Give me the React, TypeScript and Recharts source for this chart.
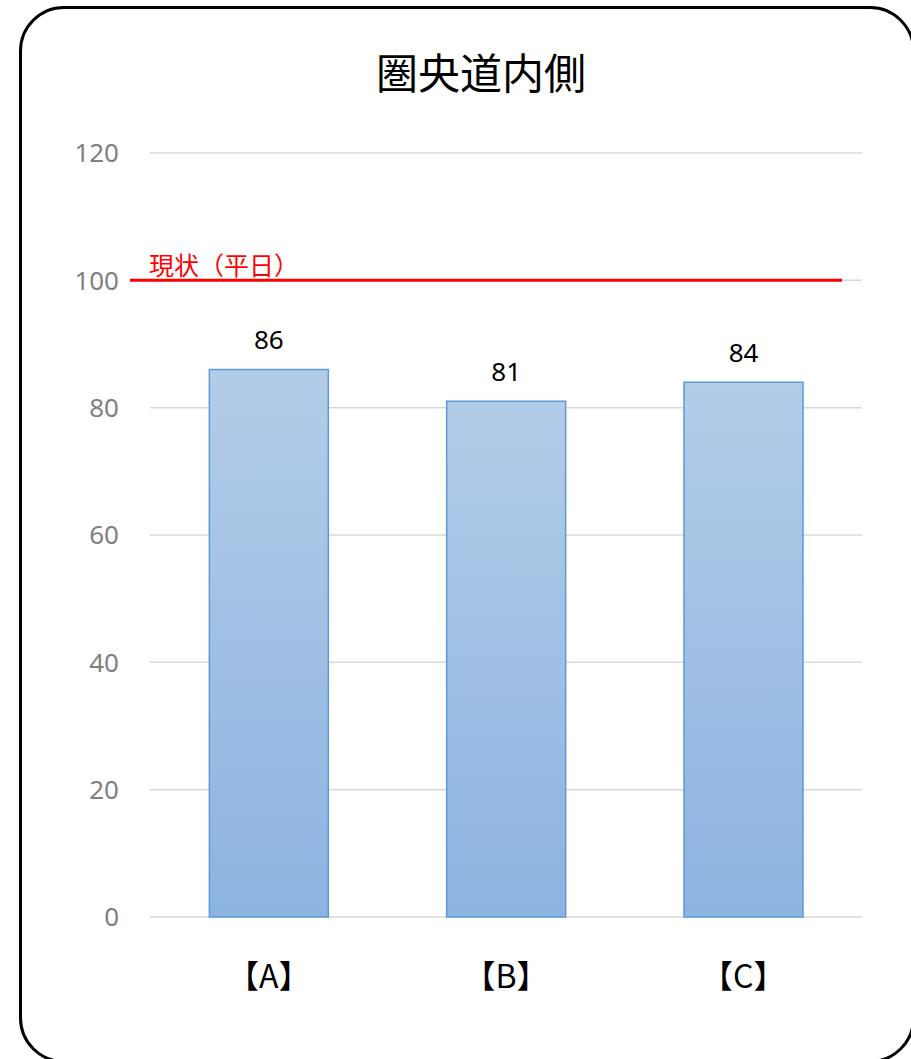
import React from "react";
import { BarChart, Bar, XAxis, YAxis, CartesianGrid, ReferenceLine, LabelList } from "recharts";

const categories = ["【A】", "【B】", "【C】"];
const values = [86, 81, 84];
const yTicks = [0, 20, 40, 60, 80, 100, 120];
const baselineValue = 100;
const baselineLabel = "現状（平日）";
const title = "圏央道内側";

const data = categories.map((name, i) => ({ name, value: values[i] }));

const cjk = "'Noto Sans CJK JP', 'Noto Sans', sans-serif";
const latin = "'Noto Sans', 'Noto Sans CJK JP', sans-serif";

const RedLine = (props: any) => {
  const { x1, y1, x2, y2 } = props;
  return (
    <g>
      <line x1={x1 - 20} y1={y1} x2={x2 - 20} y2={y2} stroke="#ff0000" strokeWidth={3} />
      <text x={x1 - 1} y={y1 - 5} fill="#ff0000" fontSize={25} fontFamily={cjk}>
        {baselineLabel}
      </text>
    </g>
  );
};

export default function App() {
  return (
    <div style={{ position: "fixed", left: 0, top: 0, width: 911, height: 1059, overflow: "hidden", background: "#fff" }}>
      <div
        style={{
          position: "absolute",
          left: 19,
          top: 6,
          width: 896,
          height: 1057,
          border: "3px solid #000",
          borderRadius: 45,
          boxSizing: "border-box",
        }}
      />
      <div
        style={{
          position: "absolute",
          left: 0,
          top: 44,
          width: 962,
          textAlign: "center",
          fontFamily: cjk,
          fontSize: 42,
          lineHeight: "54px",
          color: "#000",
        }}
      >
        {title}
      </div>
      <div style={{ position: "absolute", left: 0, top: 0 }}>
        <BarChart
          width={911}
          height={1059}
          data={data}
          margin={{ top: 153, right: 49, bottom: 0, left: 90 }}
          barCategoryGap="25%"
        >
          <defs>
            <linearGradient id="barGrad" x1="0" y1="0" x2="0" y2="1">
              <stop offset="0%" stopColor="#b3cce8" />
              <stop offset="100%" stopColor="#8db3e1" />
            </linearGradient>
          </defs>
          <CartesianGrid vertical={false} stroke="#d9d9d9" strokeWidth={1.5} />
          <XAxis
            dataKey="name"
            axisLine={false}
            tickLine={false}
            tickSize={0}
            tickMargin={48}
            height={142}
            tick={{ fill: "#000", fontSize: 32, fontFamily: cjk }}
          />
          <YAxis
            width={60}
            domain={[0, 120]}
            ticks={yTicks}
            axisLine={false}
            tickLine={false}
            tickSize={0}
            tickMargin={31}
            tick={{ fill: "#7f7f7f", fontSize: 26, fontFamily: latin }}
          />
          <Bar dataKey="value" fill="url(#barGrad)" stroke="#5b9bd5" strokeWidth={1.5} isAnimationActive={false}>
            <LabelList dataKey="value" position="top" offset={20} fill="#000" fontSize={26} fontFamily={latin} />
          </Bar>
          <ReferenceLine y={baselineValue} shape={RedLine} ifOverflow="visible" />
        </BarChart>
      </div>
    </div>
  );
}
